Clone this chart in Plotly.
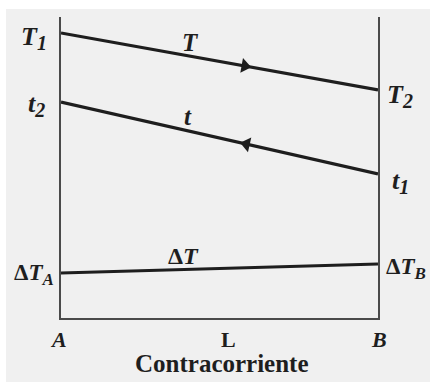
import numpy as np
import plotly.graph_objects as go

# Position along the exchanger, from end A to end B (fraction of length L)
position = [0.0, 1.0]
# Hot fluid temperature T (enters at A, leaves at B)
hot_T = [95, 76]
# Cold fluid temperature t (enters at B, leaves at A)
cold_t = [72, 48]
# Temperature difference between the streams
delta_T = [15, 18]
end_labels = ["<i>A</i>", "L", "<i>B</i>"]

INK = "#1e1e1e"
FRAME = "#4a4a4a"
SERIF = "Liberation Serif"

fig = go.Figure()

for ys in (hot_T, cold_t, delta_T):
    fig.add_trace(go.Scatter(x=position, y=ys, mode="lines",
                             line=dict(color=INK, width=3.2),
                             hoverinfo="skip", showlegend=False))

# Flow direction arrowheads placed on the lines
def arrow(ys, frac, symbol):
    y = float(np.interp(frac, position, ys))
    dy_px = (ys[0] - ys[1]) * 3.0
    ang = float(np.degrees(np.arctan2(dy_px, 317)))
    fig.add_trace(go.Scatter(x=[frac], y=[y], mode="markers",
                             marker=dict(symbol=symbol, size=13, color=INK,
                                         angle=ang, line=dict(width=0)),
                             hoverinfo="skip", showlegend=False))

arrow(hot_T, 0.58, "triangle-right")
arrow(cold_t, 0.585, "triangle-left")

def sub(s, px):
    return "<sub><span style='font-size:%dpx'>%s</span></sub>" % (px, s)

def label(text, x, y, xanchor="center", yanchor="middle", xshift=0, yshift=0, size=24):
    fig.add_annotation(x=x, y=y, text=text, showarrow=False,
                       xanchor=xanchor, yanchor=yanchor,
                       xshift=xshift, yshift=yshift,
                       font=dict(family=SERIF, size=size, color=INK))

# End temperatures
label("<b><i>T" + sub("1", 20) + "</i></b>", 0, hot_T[0], xshift=-27, yshift=-5, size=26)
label("<b><i>t" + sub("2", 20) + "</i></b>", 0, cold_t[0], xshift=-25, yshift=-3, size=26)
label("<b><i>T" + sub("2", 20) + "</i></b>", 1, hot_T[1], xshift=22, yshift=-6, size=26)
label("<b><i>t" + sub("1", 20) + "</i></b>", 1, cold_t[1], xshift=22, yshift=-8, size=26)
label("<b>Δ<i>T" + sub("A", 17) + "</i></b>", 0, delta_T[0], xanchor="right",
      xshift=-5, yshift=-1, size=23)
label("<b>Δ<i>T" + sub("B", 17) + "</i></b>", 1, delta_T[1], xanchor="left",
      xshift=6, yshift=-4, size=23)

# Curve names
label("<b><i>T</i></b>", 0.41, float(np.interp(0.41, position, hot_T)), yshift=14, size=25)
label("<b><i>t</i></b>", 0.40, float(np.interp(0.40, position, cold_t)), yshift=14, size=25)
label("<b>Δ<i>T</i></b>", 0.385, float(np.interp(0.385, position, delta_T)), yshift=14, size=24)

# Ends and length
for xpos, shift, txt in zip([0.0, 0.527, 1.0], [-3, 0, 1], end_labels):
    label("<b>" + txt + "</b>", xpos, 0, xshift=shift, yshift=-21, size=22)
label("<b>Contracorriente</b>", 0.508, 0, yshift=-45, size=25)

fig.update_xaxes(range=[0, 1], showgrid=False, zeroline=False, showticklabels=False,
                 ticks="", showline=True, linecolor=FRAME, linewidth=2)
fig.update_yaxes(range=[0, 100.33], showgrid=False, zeroline=False, showticklabels=False,
                 ticks="", showline=True, mirror=True, linecolor=FRAME, linewidth=2)

# Light page with a thin white border strip at the top and left
fig.add_shape(type="rect", xref="paper", yref="paper",
              x0=-55/317, x1=369/317, y0=-64/301, y1=309/301,
              fillcolor="#f0f0f0", line=dict(width=0), layer="below")

fig.update_layout(width=430, height=382,
                  margin=dict(l=61, r=52, t=17, b=64),
                  paper_bgcolor="#ffffff", plot_bgcolor="rgba(0,0,0,0)")

fig.write_html("out.html")
